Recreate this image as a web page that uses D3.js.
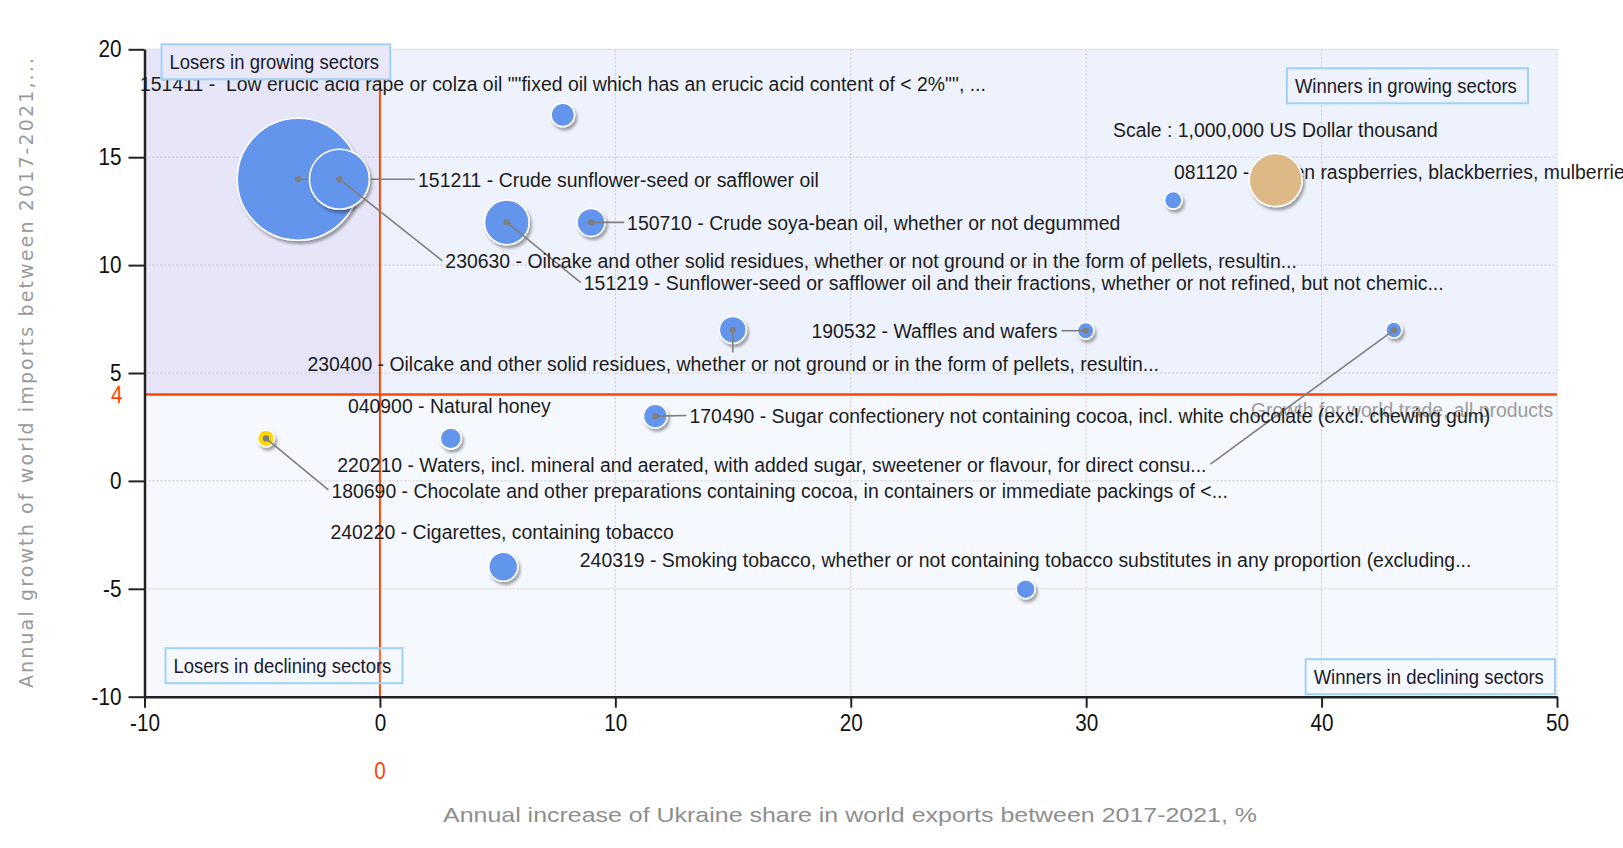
<!DOCTYPE html>
<html><head><meta charset="utf-8">
<script src="https://cdn.jsdelivr.net/npm/d3@7"></script>
<style>
body{margin:0;background:#fff;}
svg{display:block;}
text{white-space:pre;}
</style>
</head><body>
<svg id="chart" width="1623" height="848"></svg>
<script>
// ---------- DATA ----------
const codes = ["151211","230630","151219","150710","151411","230400","190532","220210","170490","040900","180690","240220","240319","081120"];
const names = [
  "Crude sunflower-seed or safflower oil",
  "Oilcake and other solid residues, whether or not ground or in the form of pellets, resultin...",
  "Sunflower-seed or safflower oil and their fractions, whether or not refined, but not chemic...",
  "Crude soya-bean oil, whether or not degummed",
  " Low erucic acid rape or colza oil \"\"fixed oil which has an erucic acid content of < 2%\"\", ...",
  "Oilcake and other solid residues, whether or not ground or in the form of pellets, resultin...",
  "Waffles and wafers",
  "Waters, incl. mineral and aerated, with added sugar, sweetener or flavour, for direct consu...",
  "Sugar confectionery not containing cocoa, incl. white chocolate (excl. chewing gum)",
  "Natural honey",
  "Chocolate and other preparations containing cocoa, in containers or immediate packings of <...",
  "Cigarettes, containing tobacco",
  "Smoking tobacco, whether or not containing tobacco substitutes in any proportion (excluding...",
  "Frozen raspberries, blackberries, mulberries, loganberries, black, white or red currants an..."
];
// Annual increase of Ukraine share in world exports 2017-2021, %
const exportShareGrowth = [-3.47, -1.72, 5.39, 8.97, 7.77, 14.99, 29.98, 43.07, 11.70, 3.01, -4.84, 5.24, 27.43, 33.70];
// Annual growth of world imports 2017-2021, %
const worldImportGrowth = [13.98, 13.98, 11.98, 11.98, 16.96, 7.0, 6.96, 6.99, 3.0, 1.97, 1.97, -3.98, -5.02, 13.0];
// Ukraine exports, US Dollar thousand
const exportValue = [5300000, 1280000, 710000, 280000, 195000, 260000, 98000, 91000, 200000, 157000, 103000, 300000, 128000, 110000];
const highlightedCodes = ["180690"];

const xTicks = [-10, 0, 10, 20, 30, 40, 50];
const yTicks = [-10, -5, 0, 5, 10, 15, 20];
const worldTradeGrowth = 4;   // growth for world trade, all products
const xReference = 0;
const scaleValue = 1000000;   // Scale : 1,000,000 US Dollar thousand
const scaleLabel = "Scale : 1,000,000 US Dollar thousand";
const quadrantNames = ["Losers in growing sectors", "Winners in growing sectors", "Losers in declining sectors", "Winners in declining sectors"];
const xTitle = "Annual increase of Ukraine share in world exports between 2017-2021, %";
const yTitle = "Annual growth of world imports between 2017-2021,...";
const worldLineLabel = "Growth for world trade, all products";

// ---------- LAYOUT (annotation anchors in data units) ----------
const labelAnchor = [[1.62,13.98],[2.78,10.2],[8.66,9.19],[10.5,11.98],[-10.19,18.42],[-3.08,5.45],[18.33,6.96],[-1.81,0.78],[13.15,3.03],[-1.36,3.52],[-2.06,-0.42],[-2.1,-2.35],[8.49,-3.62],[33.73,14.36]];
const leaderType = ["start","start","start","start","none","down","end","end","start","none","start","none","none","none"];
const scaleAnchor = [38.05, 13.94];
const scaleLabelAnchor = [31.14, 16.31];
const worldLabelAnchor = [37.0, 3.29];

// ---------- SETUP ----------
const M = {left:144.5, right:1557, top:49.3, bottom:696.7};
const svg = d3.select("#chart");
const x = d3.scaleLinear().domain([-10,50]).range([M.left, M.right]);
const y = d3.scaleLinear().domain([-10,20]).range([M.bottom, M.top]);
const r = d3.scaleSqrt().domain([0, scaleValue]).range([0, 26.5]);

const FONT = "'Liberation Sans', Arial, Helvetica, sans-serif";
const SQ = 0.925;
const ORANGE = "#ff4500";
const BLUE = "#6495ed";
const fmt = d => String(d);

const defs = svg.append("defs");
const f = defs.append("filter").attr("id","sh").attr("x","-30%").attr("y","-30%").attr("width","170%").attr("height","170%");
f.append("feDropShadow").attr("dx",2).attr("dy",3).attr("stdDeviation",1.6).attr("flood-color","#000").attr("flood-opacity",0.35);

// backgrounds
svg.append("rect").attr("x",x(-10)).attr("y",y(20)).attr("width",x(50)-x(-10)).attr("height",y(-10)-y(20)).attr("fill","#f5f8fe");
svg.append("rect").attr("x",x(xReference)).attr("y",y(20)).attr("width",x(50)-x(xReference)).attr("height",y(worldTradeGrowth)-y(20)).attr("fill","#eef2fc");
svg.append("rect").attr("x",x(-10)).attr("y",y(20)).attr("width",x(xReference)-x(-10)).attr("height",y(worldTradeGrowth)-y(20)).attr("fill","#e6e6f8");

// gridlines
const grid = svg.append("g").attr("stroke","#c9c9c9").attr("stroke-width",1).attr("stroke-dasharray","2,2");
xTicks.forEach(t => grid.append("line").attr("x1",x(t)).attr("x2",x(t)).attr("y1",y(20)).attr("y2",y(-10)));
yTicks.forEach(t => grid.append("line").attr("x1",x(-10)).attr("x2",x(50)).attr("y1",y(t)).attr("y2",y(t)));

// threshold lines
svg.append("line").attr("x1",x(xReference)).attr("x2",x(xReference)).attr("y1",y(20)).attr("y2",y(-10)).attr("stroke",ORANGE).attr("stroke-width",2);
svg.append("line").attr("x1",x(-10)).attr("x2",x(50)).attr("y1",y(worldTradeGrowth)).attr("y2",y(worldTradeGrowth)).attr("stroke",ORANGE).attr("stroke-width",2.5);

// axes
const yAxis = svg.append("g").attr("transform",`translate(${M.left},0)`)
  .call(d3.axisLeft(y).tickValues(yTicks).tickSize(16).tickSizeOuter(0).tickPadding(7).tickFormat(fmt));
const xAxis = svg.append("g").attr("transform",`translate(0,${M.bottom})`)
  .call(d3.axisBottom(x).tickValues(xTicks).tickSize(11).tickSizeOuter(0).tickPadding(7).tickFormat(fmt));
[yAxis, xAxis].forEach(a => {
  a.selectAll("path.domain").attr("stroke","#222").attr("stroke-width",2.5);
  a.selectAll(".tick line").attr("stroke","#222").attr("stroke-width",2);
  a.selectAll(".tick text").attr("font-family",FONT).attr("font-size",23).attr("fill","#111");
});
yAxis.selectAll(".tick text").each(function(){
  const t = d3.select(this); const tx = +t.attr("x");
  t.attr("x",0).attr("transform",`translate(${tx},0) scale(0.9,1)`);
});
xAxis.selectAll(".tick text").attr("transform","scale(0.9,1)");

// orange reference labels
svg.append("text").attr("transform",`translate(${M.left-22},${y(worldTradeGrowth)}) scale(0.9,1)`)
  .attr("text-anchor","end").attr("dy","0.36em").attr("font-family",FONT).attr("font-size",23).attr("fill",ORANGE).text(fmt(worldTradeGrowth));
svg.append("text").attr("transform",`translate(${x(xReference)},771) scale(0.9,1)`)
  .attr("text-anchor","middle").attr("dy","0.36em").attr("font-family",FONT).attr("font-size",23).attr("fill",ORANGE).text(fmt(xReference));

// axis titles
svg.append("text").attr("x",850).attr("y",815).attr("dy","0.35em").attr("text-anchor","middle")
  .attr("font-family",FONT).attr("font-size",21).attr("fill","#8e8e8e")
  .attr("textLength",814).attr("lengthAdjust","spacingAndGlyphs").text(xTitle);
svg.append("text").attr("transform","translate(26,373) rotate(-90)").attr("dy","0.35em").attr("text-anchor","middle")
  .attr("font-family","'DejaVu Sans', Verdana, sans-serif").attr("font-size",19).attr("fill","#9a9a9a")
  .attr("textLength",630).attr("lengthAdjust","spacing").text(yTitle);

// world growth label
svg.append("text").attr("transform",`translate(${x(worldLabelAnchor[0])},${y(worldLabelAnchor[1])}) scale(${SQ},1)`)
  .attr("dy","0.36em").attr("font-family",FONT).attr("font-size",21).attr("fill","#9b9b9b").text(worldLineLabel);

// ---------- BUBBLES ----------
const items = codes.map((c,i) => ({
  code:c, name:names[i], xv:exportShareGrowth[i], yv:worldImportGrowth[i], v:exportValue[i],
  la:labelAnchor[i], lt:leaderType[i]
}));

const labelLayer = svg.append("g");
const bubbleLayer = svg.insert("g", () => labelLayer.node());
items.forEach(d => {
  const lx = x(d.la[0]), ly = y(d.la[1]);
  const t = labelLayer.append("text").attr("transform",`translate(${lx},${ly}) scale(${SQ},1)`)
    .attr("dy","0.36em").attr("font-family",FONT).attr("font-size",21).attr("fill","#1c1c1c")
    .text(`${d.code} - ${d.name}`);
  d.lx = lx; d.ly = ly; d.lw = t.node().getComputedTextLength()*SQ;
});

const sorted = items.slice().sort((a,b) => b.v - a.v);
sorted.forEach(d => {
  const cx = x(d.xv), cy = y(d.yv);
  const g = bubbleLayer.append("g");
  g.append("circle").attr("cx",cx).attr("cy",cy).attr("r",r(d.v))
    .attr("fill", highlightedCodes.includes(d.code) ? "#ffd700" : BLUE)
    .attr("stroke","#fff").attr("stroke-width",1.6).attr("filter","url(#sh)");
  if (d.lt !== "none") {
    let ex, ey;
    if (d.lt === "start") { ex = d.lx - 3; ey = d.ly; }
    else if (d.lt === "end") { ex = d.lx + d.lw + 4; ey = d.ly; }
    else { ex = cx; ey = d.ly - 11; }
    g.append("line").attr("x1",cx).attr("y1",cy).attr("x2",ex).attr("y2",ey)
      .attr("stroke","#7f7f7f").attr("stroke-width",1.6);
    g.append("circle").attr("cx",cx).attr("cy",cy).attr("r",3.2).attr("fill","#7f7f7f");
  }
});

// scale legend
svg.append("text").attr("transform",`translate(${x(scaleLabelAnchor[0])},${y(scaleLabelAnchor[1])}) scale(${SQ},1)`)
  .attr("dy","0.36em").attr("font-family",FONT).attr("font-size",21).attr("fill","#1c1c1c").text(scaleLabel);
svg.append("circle").attr("cx",x(scaleAnchor[0])).attr("cy",y(scaleAnchor[1])).attr("r",r(scaleValue))
  .attr("fill","#deb887").attr("stroke","#fff").attr("stroke-width",1.6).attr("filter","url(#sh)");

// ---------- QUADRANT BOXES ----------
function qbox(label, px, py, anchorRight, fill, fop) {
  const g = svg.append("g");
  const rect = g.append("rect");
  const t = g.append("text").attr("font-family",FONT).attr("font-size",20).attr("fill","#1a1a2a").attr("dy","0.36em").text(label);
  const w = t.node().getComputedTextLength()*SQ;
  const bw = w + 19, bh = 35;
  const bx = anchorRight ? px - bw : px;
  rect.attr("x",bx).attr("y",py).attr("width",bw).attr("height",bh)
    .attr("fill",fill).attr("fill-opacity",fop).attr("stroke","#9fd2f6").attr("stroke-width",2);
  t.attr("transform",`translate(${bx+8},${py+bh/2}) scale(${SQ},1)`);
}
qbox(quadrantNames[0], M.left+17, M.top-5, false, "#e8e8f9", 1);
qbox(quadrantNames[1], M.right-29, M.top+19, true, "#eef2fc", 1);
qbox(quadrantNames[2], M.left+21, M.bottom-48.5, false, "#f5f8fe", 0.2);
qbox(quadrantNames[3], M.right-2, M.bottom-37.5, true, "#f5f8fe", 0.2);
</script>
</body></html>
